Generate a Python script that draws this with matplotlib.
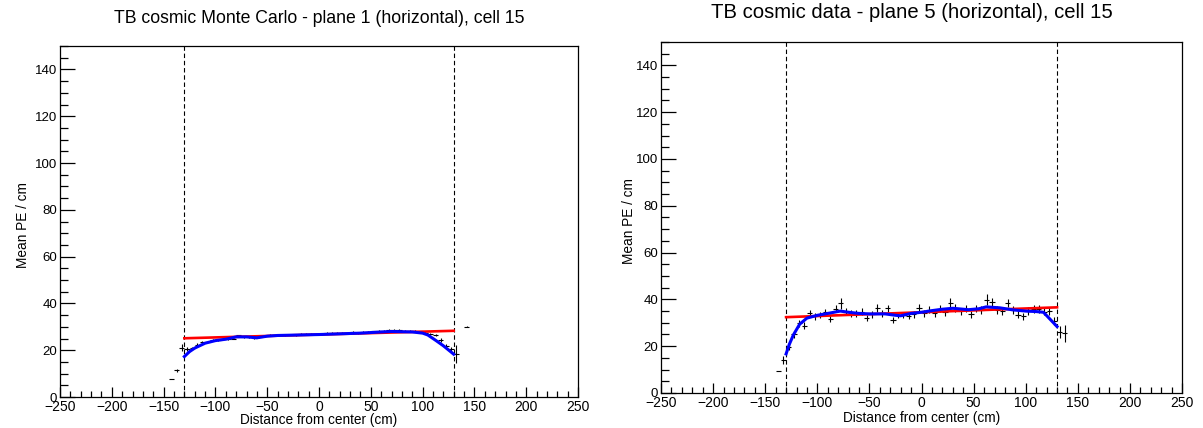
import numpy as np
import matplotlib
matplotlib.use('Agg')
import matplotlib.pyplot as plt
from matplotlib.ticker import MultipleLocator

plt.rcParams['font.family'] = ['Liberation Sans', 'DejaVu Sans']

# ---- Monte Carlo (left) ----
mc_x = [-142.5, -137.5, -132.5, -127.5, -122.5, -117.5, -112.5, -107.5, -102.5, -97.5,
        -92.5, -87.5, -82.5, -77.5, -72.5, -67.5, -62.5, -57.5, -52.5, -47.5,
        -42.5, -37.5, -32.5, -27.5, -22.5, -17.5, -12.5, -7.5, -2.5, 2.5,
        7.5, 12.5, 17.5, 22.5, 27.5, 32.5, 37.5, 42.5, 47.5, 52.5,
        57.5, 62.5, 67.5, 72.5, 77.5, 82.5, 87.5, 92.5, 97.5, 102.5,
        107.5, 112.5, 117.5, 122.5, 127.5, 132.5, 142.5]
mc_y = [7.6, 11.4, 21.1, 20.4, 20.9, 22.4, 23.3, 23.7, 24.3, 24.5,
        24.7, 24.8, 25.0, 26.3, 25.8, 25.5, 25.1, 25.8, 26.1, 26.5,
        26.3, 26.5, 26.5, 26.7, 26.5, 26.8, 26.9, 27.1, 27.0, 27.1,
        27.2, 27.2, 27.3, 27.4, 27.5, 27.6, 27.5, 27.8, 27.9, 28.0,
        28.2, 28.4, 28.6, 28.8, 28.5, 28.3, 28.2, 28.1, 28.0, 27.5,
        27.0, 26.5, 24.4, 21.9, 20.4, 18.5, 30.1]
mc_err = [0.1, 0.6, 1.6, 0.8, 0.6, 0.5, 0.5, 0.4, 0.4, 0.4,
          0.4, 0.4, 0.4, 0.4, 0.4, 0.4, 0.4, 0.4, 0.4, 0.4,
          0.4, 0.4, 0.4, 0.4, 0.4, 0.4, 0.4, 0.4, 0.4, 0.4,
          0.4, 0.4, 0.4, 0.4, 0.4, 0.4, 0.4, 0.4, 0.4, 0.4,
          0.4, 0.4, 0.4, 0.4, 0.4, 0.4, 0.4, 0.4, 0.4, 0.5,
          0.5, 0.6, 0.7, 0.8, 1.0, 3.8, 0.1]
mc_fit_x = [-130, -125, -120, -110, -100, -90, -80, -70, -60, -50, -40, -20,
            0, 20, 40, 60, 70, 80, 90, 100, 105, 113, 120, 130]
mc_fit_y = [17.3, 19.4, 20.9, 23.0, 24.1, 24.7, 25.7, 25.7, 25.3, 26.0, 26.3, 26.5,
            26.7, 27.0, 27.3, 27.8, 28.0, 27.9, 27.8, 27.3, 26.5, 24.1, 21.9, 18.3]
mc_line_x = [-130, 130]
mc_line_y = [25.1, 28.3]

# ---- data (right) ----
dt_x = [-137.5, -132.5, -127.5, -122.5, -117.5, -112.5, -107.5, -102.5, -97.5, -92.5,
        -87.5, -82.5, -77.5, -72.5, -67.5, -62.5, -57.5, -52.5, -47.5, -42.5,
        -37.5, -32.5, -27.5, -22.5, -17.5, -12.5, -7.5, -2.5, 2.5, 7.5,
        12.5, 17.5, 22.5, 27.5, 32.5, 37.5, 42.5, 47.5, 52.5, 57.5,
        62.5, 67.5, 72.5, 77.5, 82.5, 87.5, 92.5, 97.5, 102.5, 107.5,
        112.5, 117.5, 122.5, 127.5, 132.5, 137.5]
dt_y = [9.4, 14.1, 19.7, 25.1, 29.8, 28.8, 34.0, 32.7, 33.4, 34.5,
        31.6, 35.9, 38.3, 34.8, 34.0, 34.0, 34.8, 32.0, 33.6, 36.4,
        34.0, 36.2, 31.2, 33.4, 33.4, 32.9, 33.6, 36.4, 34.0, 35.5,
        34.0, 35.9, 34.5, 38.4, 36.4, 35.0, 35.9, 33.6, 35.9, 35.5,
        39.8, 38.8, 35.5, 35.0, 38.4, 35.5, 33.4, 32.7, 35.0, 35.9,
        35.9, 34.8, 35.0, 30.7, 26.2, 25.5]
dt_err = [0.1, 1.6, 1.4, 1.5, 1.5, 1.4, 1.5, 1.4, 1.4, 1.5,
          1.4, 1.5, 2.2, 1.5, 1.4, 1.4, 1.5, 1.4, 1.4, 1.6,
          1.4, 1.6, 1.4, 1.4, 1.4, 1.4, 1.4, 1.5, 1.4, 1.5,
          1.4, 1.5, 1.5, 2.0, 1.6, 1.5, 1.5, 1.4, 1.5, 1.6,
          2.4, 2.0, 1.6, 1.5, 1.8, 1.6, 1.5, 1.5, 1.6, 1.6,
          1.6, 1.6, 1.7, 1.8, 2.5, 3.5]
dt_fit_x = [-130, -127, -123, -117, -110, -100, -90, -78, -70, -60, -50, -35, -25, -20,
            -10, 0, 10, 20, 30, 45, 55, 62, 75, 88, 100, 110, 117, 130]
dt_fit_y = [16.7, 20.7, 24.8, 29.4, 32.0, 33.2, 34.0, 35.0, 34.5, 34.0, 33.8, 33.8, 33.2, 33.0,
            34.0, 34.5, 35.2, 35.8, 36.2, 35.6, 36.0, 36.8, 36.4, 35.5, 35.0, 34.8, 34.5, 28.4]
dt_line_x = [-130, 130]
dt_line_y = [32.4, 36.6]

edges = [-130, 130]
xticks = [-250, -200, -150, -100, -50, 0, 50, 100, 150, 200, 250]


def root_style(ax, ylab_x, xlab_y):
    ax.set_xlim(-250, 250)
    ax.set_ylim(0, 150)
    ax.set_xticks(xticks)
    ax.xaxis.set_minor_locator(MultipleLocator(10))
    ax.yaxis.set_major_locator(MultipleLocator(20))
    ax.yaxis.set_minor_locator(MultipleLocator(5))
    ax.tick_params(axis='y', which='major', direction='in', length=11, width=0.9, pad=2, labelsize=9.5)
    ax.tick_params(axis='y', which='minor', direction='in', length=5.5, width=0.9)
    ax.tick_params(axis='x', which='major', direction='in', length=7.5, width=0.9, pad=2, labelsize=10)
    ax.tick_params(axis='x', which='minor', direction='in', length=4, width=0.9)
    for s in ax.spines.values():
        s.set_linewidth(0.9)
    ax.set_xticklabels([str(t).replace('-', '\u2212') for t in xticks])
    ax.set_xlabel('Distance from center (cm)', fontsize=9.8)
    ax.set_ylabel('Mean PE / cm', fontsize=9.8)
    ax.yaxis.set_label_coords(ylab_x, 0.49)
    ax.xaxis.set_label_coords(0.5, xlab_y)


def draw_panel(ax, x, y, err, fit_x, fit_y, line_x, line_y):
    for e in edges:
        ax.axvline(e, color='black', lw=0.8, linestyle=(0, (4, 2.5)), zorder=1)
    ax.errorbar(x, y, yerr=err, xerr=2.5, fmt='none', ecolor='black',
                elinewidth=0.8, capsize=0, zorder=2)
    ax.plot(line_x, line_y, color='red', lw=1.9, zorder=3)
    ax.plot(fit_x, fit_y, color='blue', lw=2.2, zorder=4)


fig = plt.figure(figsize=(12.03, 4.28), dpi=100)
ax1 = fig.add_axes([0.0499, 0.0724, 0.4306, 0.8201])
ax2 = fig.add_axes([0.5495, 0.0818, 0.4331, 0.8201])

draw_panel(ax1, mc_x, mc_y, mc_err, mc_fit_x, mc_fit_y, mc_line_x, mc_line_y)
draw_panel(ax2, dt_x, dt_y, dt_err, dt_fit_x, dt_fit_y, dt_line_x, dt_line_y)

root_style(ax1, -0.058, -0.046)
root_style(ax2, -0.048, -0.051)

fig.text(0.0499 + 0.4306 / 2, 1 - 22.7 / 428, 'TB cosmic Monte Carlo - plane 1 (horizontal), cell 15',
         ha='center', va='baseline', fontsize=12.7)
fig.text(912 / 1203, 1 - 18.5 / 428, 'TB cosmic data - plane 5 (horizontal), cell 15',
         ha='center', va='baseline', fontsize=14.6)

fig.savefig('out.png', dpi=100)
